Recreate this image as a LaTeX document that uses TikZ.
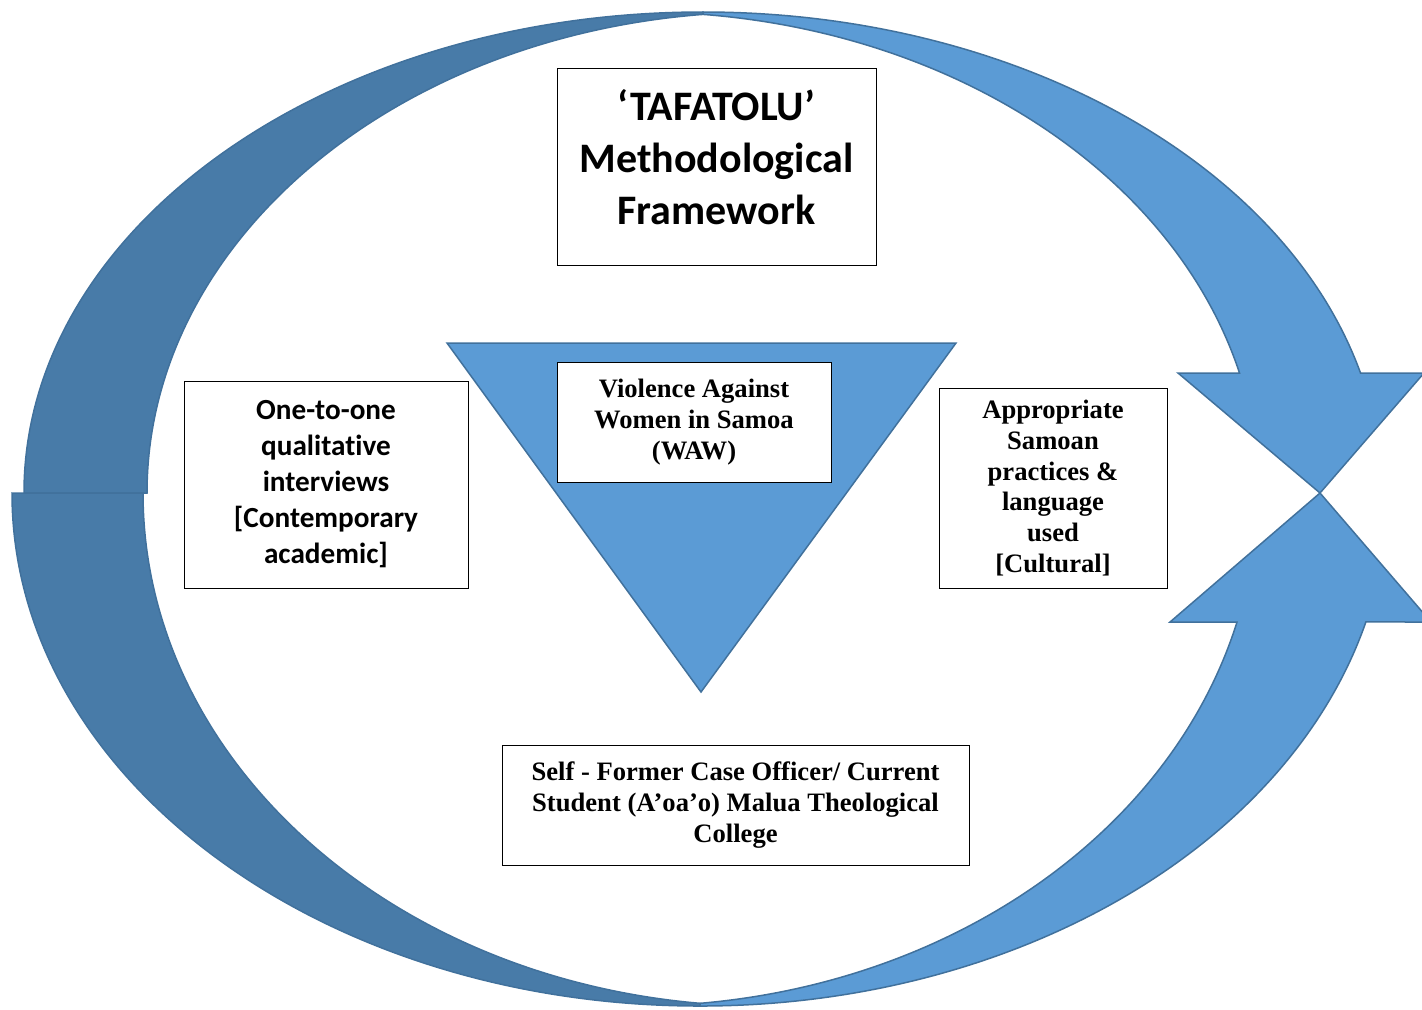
\documentclass[tikz,border=0pt]{standalone}
\usepackage{fontspec}
\setmainfont{Liberation Serif}
\newfontfamily\calibri[Ligatures=NoCommon]{Carlito}
\definecolor{darkarrow}{HTML}{487BA8}
\definecolor{lightarrow}{HTML}{5B9BD5}
\definecolor{arrowline}{HTML}{41719C}
\tikzset{
  box/.style={draw=black, line width=0.5pt, fill=white, align=center, inner sep=0pt},
  calbox/.style={box, font=\calibri\bfseries\fontsize{14.6}{18}\selectfont},
  timesbox/.style={box, font=\bfseries\fontsize{13.3}{15.4}\selectfont},
  band/.style={draw=arrowline, line width=0.75pt, line join=miter}
}
\begin{document}
\begin{tikzpicture}[x=0.5pt, y=-0.5pt]
  \useasboundingbox (0,0) rectangle (1422,1009);
  % dark band, left side (upper and lower part)
  \filldraw[band, fill=darkarrow] (703,12) arc[start angle=-90, end angle=-180, x radius=679, y radius=481]
    -- (147,493) arc[start angle=180, end angle=264.3, x radius=617, y radius=481] -- cycle;
  \filldraw[band, fill=darkarrow] (12,493) arc[start angle=180, end angle=90, x radius=688, y radius=513]
    -- (700.2,1003.3) arc[start angle=95.9, end angle=180, x radius=621, y radius=513] -- cycle;
  % light arrows, right side
  \filldraw[band, fill=lightarrow] (703,12) arc[start angle=-90, end angle=-14.45, x radius=679, y radius=481]
    -- (1424,373) -- (1320,493) -- (1178,373) -- (1239.5,373)
    arc[start angle=-14.45, end angle=-84.3, x radius=617, y radius=481] -- cycle;
  \filldraw[band, fill=lightarrow] (700,1006) arc[start angle=90, end angle=14.56, x radius=688, y radius=513]
    -- (1431,622) -- (1320,493) -- (1170,622) -- (1237,622)
    arc[start angle=14.56, end angle=84.08, x radius=621, y radius=513] -- cycle;
  % triangle
  \filldraw[band, fill=lightarrow] (447,343) -- (956,343) -- (701,692) -- cycle;

  \node[box, font=\calibri\bfseries\fontsize{21}{26}\selectfont, text depth=10pt, minimum width=159.5pt, minimum height=98.5pt] (title) at (716.5,166.5) {‘TAFATOLU’\\Methodological\\Framework};
  \node[calbox, minimum width=142pt, minimum height=103.5pt] (interviews) at (326,484.5) {One-to-one\\qualitative\\interviews\\{[}Contemporary\\academic]};
  \node[timesbox, minimum width=137pt, minimum height=60pt] (waw) at (694,422) {Violence Against\\Women in Samoa\\(WAW)};
  \node[timesbox, minimum width=114pt, minimum height=100pt] (culture) at (1053,488) {Appropriate\\Samoan\\practices \&\\language\\used\\{[}Cultural]};
  \node[timesbox, minimum width=233.5pt, minimum height=60pt] (self) at (735.5,805) {Self - Former Case Officer/ Current\\Student (A’oa’o) Malua Theological\\College};
\end{tikzpicture}
\end{document}
